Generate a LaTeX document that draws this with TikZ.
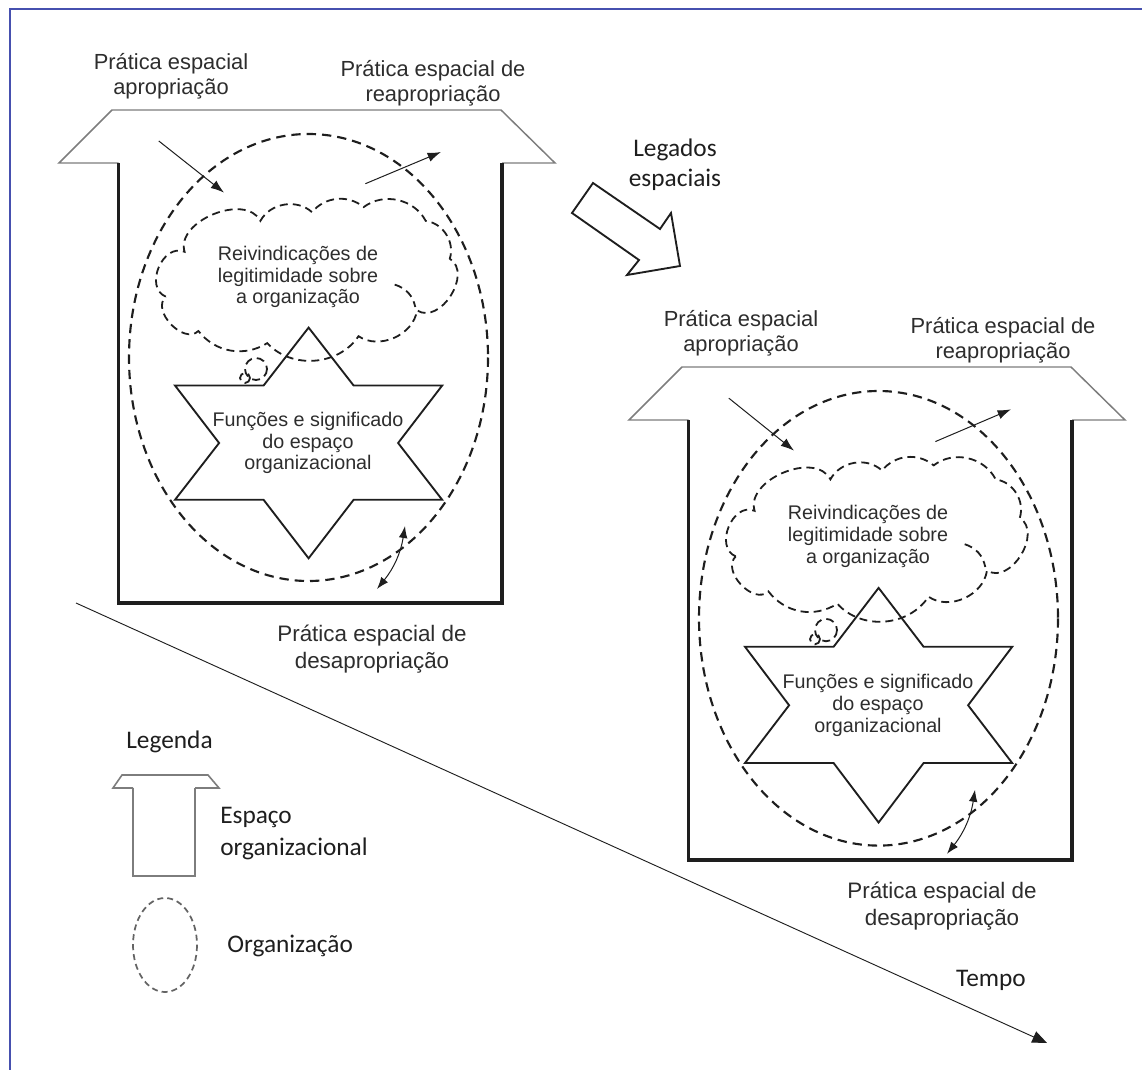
\documentclass[tikz,border=0pt]{standalone}
\usepackage{fontspec}
\setmainfont{Liberation Sans}
\newfontfamily\carl{Carlito}
\usetikzlibrary{arrows.meta}
\definecolor{roofgray}{RGB}{125,125,125}
\definecolor{frameblue}{RGB}{70,80,175}
\definecolor{txt}{RGB}{45,45,45}
\definecolor{ink}{RGB}{30,30,30}
\tikzset{
 roofline/.style={draw=roofgray, line width=1.1pt, line join=miter},
 wallline/.style={draw=ink, line width=2.4pt, line join=miter},
 orgline/.style={draw=ink, line width=1.6pt, dash pattern=on 7pt off 4.5pt},
 cloudline/.style={draw=ink, line width=1.35pt, dash pattern=on 6pt off 3.8pt},
 starline/.style={draw=ink, line width=1.4pt, line join=miter},
 smallarrow/.style={draw=ink, line width=0.75pt, -{Latex[length=10pt,width=7pt]}},
 dblarrow/.style={draw=ink, line width=0.75pt, {Latex[length=9pt,width=6.5pt]}-{Latex[length=9pt,width=6.5pt]}},
 bigarrow/.style={draw=ink, line width=1.4pt, line join=miter, fill=white},
 timearrow/.style={draw=ink, line width=0.7pt, -{Triangle[length=11pt,width=9pt]}},
 legline/.style={draw=roofgray, line width=1.2pt, line join=miter},
 legdash/.style={draw=roofgray!80!black, line width=1.3pt, dash pattern=on 4.5pt off 3pt},
 arialbl/.style={font=\fontsize{16.4}{18.75}\selectfont, text=txt, align=center, inner sep=0pt},
 botlbl/.style={font=\fontsize{16.8}{20.25}\selectfont, text=txt, align=center, inner sep=0pt},
 innerlbl/.style={font=\fontsize{14.8}{16.3}\selectfont, text=txt, align=center, inner sep=0pt},
 callbl/.style={font=\carl\fontsize{19}{22.5}\selectfont, text=ink, inner sep=0pt},
}
% #1 = name prefix, #2 = vertical stretch of the contents
\newcommand{\drawhouse}[2]{%
 \path (118.5,163) coordinate (#1wallTL) (502,163) coordinate (#1wallTR)
       (118.5,603) coordinate (#1wallBL) (502,603) coordinate (#1wallBR)
       (59,163) coordinate (#1eaveL) (112,110) coordinate (#1ridgeL)
       (501,110) coordinate (#1ridgeR) (555,163) coordinate (#1eaveR);
 \draw[roofline] (#1wallTL) -- (#1eaveL) -- (#1ridgeL) -- (#1ridgeR) -- (#1eaveR) -- (#1wallTR);
 \draw[wallline] (#1wallTL) -- (#1wallBL) -- (#1wallBR) -- (#1wallTR);
 \node[arialbl] (#1apLbl) at (171,76) {Prática espacial\\apropriação};
 \node[arialbl] (#1reLbl) at (433,83) {Prática espacial de\\reapropriação};
 \node[botlbl] (#1deLbl) at (372,649) {Prática espacial de\\desapropriação};
 \begin{scope}[shift={(0,134)},yscale=#2,shift={(0,-134)}]
  % star
  \draw[starline] (308.6,327.6) -- (353.6,385.5) -- (442.2,385.5) -- (398.1,443)
     -- (442.2,499.8) -- (353.6,499.8) -- (308.6,558.3) -- (263.6,499.8)
     -- (175,499.8) -- (219.1,443) -- (175,385.5) -- (263.6,385.5) -- cycle;
  % organisation
  \draw[orgline] (308.5,357.5) ellipse [x radius=179.5, y radius=223.5];
  % cloud
  \path (165.7,296.6) coordinate (#1c1) (184.6,251.8) coordinate (#1c2)
        (260.4,220.9) coordinate (#1c3) (312,212.2) coordinate (#1c4)
        (363.7,207.1) coordinate (#1c5) (425.7,220.9) coordinate (#1c6)
        (449.8,258.7) coordinate (#1c7) (417,310.4) coordinate (#1c8)
        (358.5,336.2) coordinate (#1c9) (267.3,343.1) coordinate (#1c10)
        (198.4,331) coordinate (#1c11)
        (394.7,284.6) coordinate (#1c12) (415.3,307) coordinate (#1c13)
        (256,369) coordinate (#1bub1) (245,378) coordinate (#1bub2);
  \draw[cloudline] (#1c1) to[bend left=90,looseness=1.25] (#1c2)
     to[bend left=85] (#1c3) to[bend left=52] (#1c4)
     to[bend left=45] (#1c5) to[bend left=50] (#1c6)
     to[bend left=50] (#1c7) to[bend left=90,looseness=1.15] (#1c8)
     to[bend left=58] (#1c9) to[bend left=52] (#1c10)
     to[bend left=42] (#1c11) to[bend left=90,looseness=1.1] (#1c1);
  \draw[cloudline] (#1c12) to[bend left=30] (#1c13);
  \draw[cloudline] (#1bub1) circle [radius=11];
  \draw[cloudline] (#1bub2) circle [radius=5];
  \node[innerlbl] (#1claim) at (298,277) {Reivindicações de\\legitimidade sobre\\a organização};
  \node[innerlbl] (#1func) at (308,443) {Funções e significado\\do espaço\\organizacional};
  % practices
  \path (158.8,141) coordinate (#1apS) (224,192.6) coordinate (#1apE)
        (365.4,183.7) coordinate (#1reS) (441,152) coordinate (#1reE)
        (405,526) coordinate (#1deA) (377,589) coordinate (#1deB);
  \draw[smallarrow] (#1apS) -- (#1apE);
  \draw[smallarrow] (#1reS) -- (#1reE);
  \draw[dblarrow] (#1deA) to[bend left=15] (#1deB);
 \end{scope}
}
\begin{document}
\begin{tikzpicture}[x=0.75pt,y=-0.75pt]
\useasboundingbox (0,0) rectangle (1142,1070);
% frame
\path (9.5,1070) coordinate (frBL) (9.5,9.5) coordinate (frTL) (1142,9.5) coordinate (frTR);
\draw[frameblue, line width=1.5pt] (frBL) -- (frTL) -- (frTR);
% time axis
\path (76,603) coordinate (tStart) (1047,1043) coordinate (tEnd);
\draw[timearrow] (tStart) -- (tEnd);
\node[callbl] (timeLbl) at (991,980) {Tempo};
% two moments
\drawhouse{L-}{1}
\begin{scope}[shift={(570,257)}]
 \drawhouse{R-}{1.017}
\end{scope}
% spatial legacies arrow
\path (572,213) coordinate (ga1) (593,183) coordinate (ga2) (660,229) coordinate (ga3)
      (671,213) coordinate (ga4) (680,266) coordinate (ga5) (627,275) coordinate (ga6)
      (639,260) coordinate (ga7);
\draw[bigarrow] (ga1) -- (ga2) -- (ga3) -- (ga4) -- (ga5) -- (ga6) -- (ga7) -- cycle;
\node[callbl, align=center] (legados) at (675,165) {Legados\\espaciais};
% legend
\node[callbl] (legTitle) at (169.5,742) {Legenda};
\path (133,788) coordinate (lgA) (113,788) coordinate (lgB) (122,775) coordinate (lgC)
      (208,775) coordinate (lgD) (219,788) coordinate (lgE) (195,788) coordinate (lgF)
      (133,876) coordinate (lgG) (195,876) coordinate (lgH);
\draw[legline] (lgA) -- (lgB) -- (lgC) -- (lgD) -- (lgE) -- (lgF);
\draw[legline] (lgA) -- (lgG) -- (lgH) -- (lgF);
\node[callbl, anchor=west, align=left, font=\carl\fontsize{19}{24}\selectfont] (legSpace) at (220,834) {Espaço\\organizacional};
\path (165,945) coordinate (lgO);
\draw[legdash] (lgO) ellipse [x radius=32, y radius=47];
\node[callbl, anchor=west] (legOrg) at (227,946) {Organização};
\end{tikzpicture}
\end{document}
